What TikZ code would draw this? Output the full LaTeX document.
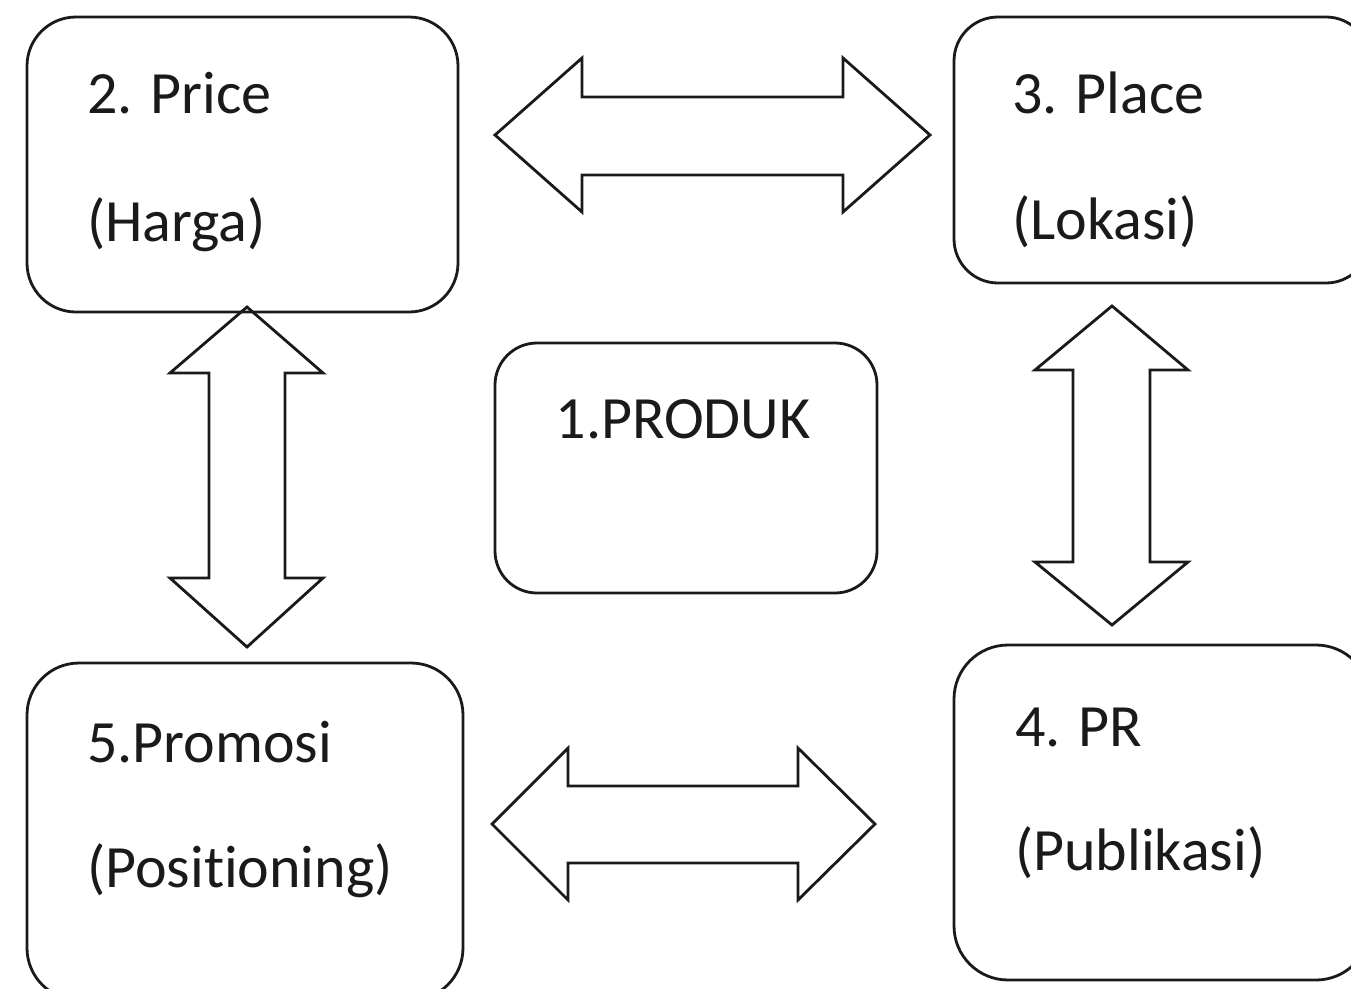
\documentclass[tikz,border=0pt]{standalone}
\usepackage{fontspec}
\setmainfont{Carlito}[Ligatures=NoCommon]
\definecolor{ink}{HTML}{1A1A1A}
\begin{document}
\begin{tikzpicture}[x=1pt,y=-1pt,
  box/.style={draw=ink, line width=2.8pt, rounded corners=#1, inner sep=0pt},
  blockarrow/.style={draw=ink, line width=2.8pt, line join=miter},
  label/.style={anchor=base west, inner sep=0pt, text=ink, font=\fontsize{60}{72}\selectfont}]
\useasboundingbox (0,0) rectangle (1351,988);
\clip (0,0) rectangle (1351,988);
\fill[white] (0,0) rectangle (1351,988);

% boxes
\node[box=49pt, minimum width=431pt, minimum height=295pt] (price) at (242.5,164.5) {};
\node[box=44pt, minimum width=416pt, minimum height=266pt] (place) at (1162,150) {};
\node[box=42pt, minimum width=382pt, minimum height=250pt] (produk) at (686,468) {};
\node[box=52pt, minimum width=436pt, minimum height=337pt] (promosi) at (245,831.5) {};
\node[box=54pt, minimum width=416pt, minimum height=335pt] (pr) at (1162,812.5) {};

% texts
\node[label] (t2a) at (87,113) {2. Price};
\node[label] (t2b) at (87,241) {(Harga)};
\node[label] (t3a) at (1012,113) {3. Place};
\node[label] (t3b) at (1012,239) {(Lokasi)};
\node[label, anchor=base] (t1) at (683,438) {1.PRODUK};
\node[label] (t5a) at (87,762) {5.Promosi};
\node[label] (t5b) at (87,887) {(Positioning)};
\node[label] (t4a) at (1015,746) {4. PR};
\node[label] (t4b) at (1015,870) {(Publikasi)};

% block double arrows
\draw[blockarrow] (495,135) -- (582,58) -- (582,97) -- (843,97) -- (843,58) -- (930,135)
  -- (843,212) -- (843,175) -- (582,175) -- (582,212) -- cycle;
\draw[blockarrow] (247,307) -- (323,373) -- (285,373) -- (285,578) -- (323,578) -- (247,647)
  -- (170,578) -- (209,578) -- (209,373) -- (170,373) -- cycle;
\draw[blockarrow] (1112,306) -- (1188,370) -- (1150,370) -- (1150,562) -- (1188,562) -- (1112,625)
  -- (1035,562) -- (1073,562) -- (1073,370) -- (1035,370) -- cycle;
\draw[blockarrow] (492,824) -- (568,748) -- (568,786) -- (798,786) -- (798,748) -- (875,824)
  -- (798,900) -- (798,863) -- (568,863) -- (568,900) -- cycle;
\end{tikzpicture}
\end{document}
